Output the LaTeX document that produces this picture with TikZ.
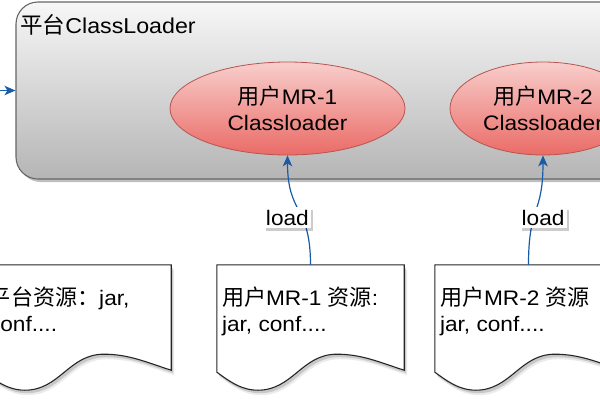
\documentclass[tikz,border=0pt]{standalone}
\usepackage{fontspec}
\setmainfont{Liberation Sans}[FakeStretch=1.08]
\newfontfamily\cjk[Scale=1.05]{Noto Sans CJK SC}
\newcommand\zh[1]{{\cjk #1}}
\usetikzlibrary{shapes.geometric,shadows,calc,arrows.meta}
\definecolor{platTop}{HTML}{F7F7F7}
\definecolor{platBot}{HTML}{B5B5B5}
\definecolor{platLine}{HTML}{666666}
\definecolor{ellTop}{HTML}{F8CECC}
\definecolor{ellBot}{HTML}{EA6B66}
\definecolor{ellLine}{HTML}{B85450}
\definecolor{edgeblue}{HTML}{1A5BA8}
\begin{document}
\begin{tikzpicture}[x=1pt,y=-1pt,
  font=\fontsize{21}{25.5}\selectfont,
  platbox/.style={rectangle, rounded corners=22pt, draw=platLine, line width=1.1pt,
    top color=platTop, bottom color=platBot, minimum width=700pt, minimum height=177pt,
    inner sep=0, drop shadow={shadow xshift=2.5pt, shadow yshift=-3pt, opacity=0.25, fill=black}},
  loader/.style={ellipse, draw=ellLine, line width=0.8pt, top color=ellTop, bottom color=ellBot,
    minimum height=93pt, inner sep=0, align=center},
  docbox/.style={rectangle, minimum width=187pt, minimum height=105pt, inner sep=0},
  doctext/.style={anchor=north west, align=left, inner sep=0},
  docline/.style={draw=black!85, line width=1.1pt, fill=white},
  edgeline/.style={draw=edgeblue, line width=1.2pt, -{Stealth[length=11pt,width=9.5pt,inset=3pt]}},
  lbl/.style={fill=white, inner xsep=2pt, inner ysep=3pt, text=black,
    drop shadow={shadow xshift=2pt, shadow yshift=-3pt, opacity=0.2, fill=black}}
]
\useasboundingbox (0,0) rectangle (600,400);
\clip (0,0) rectangle (600,400);

% platform box
\node[platbox] (plat) at (366,90.5) {};
\node[anchor=base west, inner sep=0, font=\fontsize{21.5}{26}\selectfont] (title) at (20,33) {\zh{平台}ClassLoader};

% loaders
\node[loader, minimum width=235pt] (ell1) at (287.5,108.5) {\zh{用户}MR-1\\Classloader};
\node[loader, minimum width=186pt] (ell2) at (543,108.5) {\zh{用户}MR-2\\Classloader};

% documents
\node[docbox] (doc1) at (77.5,317.5) {};
\node[docbox] (doc2) at (310.5,317.5) {};
\node[docbox] (doc3) at (528.5,317.5) {};
\foreach \d in {doc1,doc2,doc3}{
  \fill[black, opacity=0.08, transform canvas={xshift=3pt,yshift=-5pt}]
    (\d.north west) -- (\d.north east) -- (\d.south east)
    .. controls +(-25,-8) and +(25,0) .. ($(\d.south west)+(120,-16)$)
    .. controls +(-35,0) and +(35,0) .. ($(\d.south west)+(41,20)$)
    .. controls +(-18,0) and +(10,7) .. ($(\d.south west)+(0,2)$) -- cycle;
  \fill[black, opacity=0.15, transform canvas={xshift=2pt,yshift=-3pt}]
    (\d.north west) -- (\d.north east) -- (\d.south east)
    .. controls +(-25,-8) and +(25,0) .. ($(\d.south west)+(120,-16)$)
    .. controls +(-35,0) and +(35,0) .. ($(\d.south west)+(41,20)$)
    .. controls +(-18,0) and +(10,7) .. ($(\d.south west)+(0,2)$) -- cycle;
  \draw[docline]
    (\d.north west) -- (\d.north east) -- (\d.south east)
    .. controls +(-25,-8) and +(25,0) .. ($(\d.south west)+(120,-16)$)
    .. controls +(-35,0) and +(35,0) .. ($(\d.south west)+(41,20)$)
    .. controls +(-18,0) and +(10,7) .. ($(\d.south west)+(0,2)$) -- cycle;
}
\node[doctext] (t1) at ($(doc1.north west)+(5,22)$) {\zh{平台资源：}jar,\\conf....};
\node[doctext] (t2) at ($(doc2.north west)+(5,22)$) {\zh{用户}MR-1 \zh{资源}:\\jar, conf....};
\node[doctext] (t3) at ($(doc3.north west)+(5,22)$) {\zh{用户}MR-2 \zh{资源}\\jar, conf....};

% connectors
\coordinate (src) at (-4,90.5);
\draw[edgeline] (src) -- (plat.west);
\draw[edgeline] (doc2.north) .. controls +(0,-60) and +(0,60) .. node[lbl, pos=0.4, xshift=-15pt] (l1) {load} (ell1.south);
\draw[edgeline] (doc3.north) .. controls +(0,-60) and +(0,60) .. node[lbl, pos=0.4, xshift=9.5pt] (l2) {load} (ell2.south);
\end{tikzpicture}
\end{document}
